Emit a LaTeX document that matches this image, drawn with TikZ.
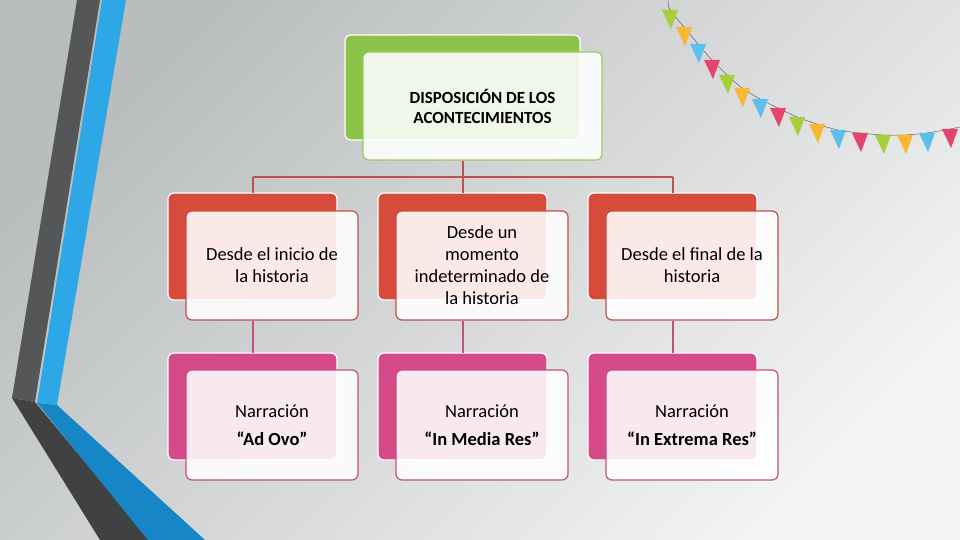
\documentclass[tikz,border=0pt]{standalone}
\usepackage{fontspec}
\setmainfont{Carlito}
\definecolor{bgA}{HTML}{F2F3F3}
\definecolor{bgB}{HTML}{BABDBE}
\definecolor{gr}{HTML}{8BC34A}
\definecolor{grB}{HTML}{9BCB5C}
\definecolor{rd}{HTML}{D64B3B}
\definecolor{rdB}{HTML}{C0504D}
\definecolor{pk}{HTML}{D64A8A}
\definecolor{pkB}{HTML}{C25086}
\definecolor{dk}{HTML}{555657}
\definecolor{dk2}{HTML}{404142}
\definecolor{bl}{HTML}{2EA7E6}
\definecolor{bl2}{HTML}{1686C6}
\definecolor{fG}{HTML}{A6CF3A}
\definecolor{fO}{HTML}{F7B733}
\definecolor{fB}{HTML}{5BC0EB}
\definecolor{fR}{HTML}{E5446D}
\tikzset{
  back/.style={rounded corners=6pt,draw=white,line width=1.2pt},
  front/.style={rounded corners=6pt,fill=white,fill opacity=0.88,text opacity=1,line width=1.2pt,align=center,font=\fontsize{18.5}{22}\selectfont},
  conn/.style={line width=1.3pt}
}
\begin{document}
\begin{tikzpicture}[x=1pt,y=-1pt]
\shade[left color=bgB,right color=bgA,shading angle=45] (0,0) rectangle (960,540);
\useasboundingbox (0,0) rectangle (960,540);
% left stripes
\fill[dk] (77,0) -- (100,0) -- (35,402) -- (12,398) -- cycle;
\fill[dk2] (12,398) -- (35,402) -- (150,540) -- (100,540) -- cycle;
\fill[bl] (102,0) -- (126,0) -- (57,405) -- (37,403) -- cycle;
\fill[bl2] (37,403) -- (57,405) -- (205,540) -- (148,540) -- cycle;
% bunting
\draw[black!70,line width=0.4pt] plot[smooth] coordinates {(668,0) (670,10) (684,27) (698,44) (712,60) (727,75) (742,88) (760,99) (778,108) (797,117) (817,124) (838,130) (860,133) (883,135) (905,135) (927,133) (950,129) (960,127)};
\foreach \x/\y/\c in {670/10/fG,684/27/fO,698/44/fB,712/60/fR,727/75/fG,742/88/fO,760/99/fB,778/108/fR,797/117/fG,817/124/fO,838/130/fB,860/133/fR,883/135/fG,905/135/fO,927/133/fB,950/129/fR}
  \fill[\c] (\x-8,\y) -- (\x+8,\y) -- (\x+1,\y+19) -- cycle;
% connectors
\coordinate (j) at (463,177);
\coordinate (jl) at (253,177);
\coordinate (jr) at (673,177);
% top
\draw[back,fill=gr] (345,35) rectangle (580,140);
\node[front,draw=grB,minimum width=239pt,minimum height=108pt,font=\bfseries\fontsize{17}{20}\selectfont] (top) at (482.5,106) {DISPOSICIÓN DE LOS\\ACONTECIMIENTOS};
% row backs
\foreach \dx in {0,210,420}{
  \draw[back,fill=rd] (168+\dx,193) rectangle (337+\dx,300);
  \draw[back,fill=pk] (168+\dx,353) rectangle (337+\dx,460);
}
\node[front,draw=rdB,minimum width=172pt,minimum height=109pt] (a1) at (272,265.5) {Desde el inicio de\\la historia};
\node[front,draw=rdB,minimum width=172pt,minimum height=109pt] (a2) at (482,265.5) {Desde un\\momento\\indeterminado de\\la historia};
\node[front,draw=rdB,minimum width=172pt,minimum height=109pt] (a3) at (692,265.5) {Desde el final de la\\historia};
\node[front,draw=pkB,minimum width=172pt,minimum height=110pt] (b1) at (272,425) {Narración\\[6pt]\textbf{“Ad Ovo”}};
\node[front,draw=pkB,minimum width=172pt,minimum height=110pt] (b2) at (482,425) {Narración\\[6pt]\textbf{“In Media Res”}};
\node[front,draw=pkB,minimum width=172pt,minimum height=110pt] (b3) at (692,425) {Narración\\[6pt]\textbf{“In Extrema Res”}};
\draw[conn,draw=rdB] (top.south -| j) -- (j) (jl) -- (jr)
  (jl) -- (253,193) (j) -- (463,193) (jr) -- (673,193);
\draw[conn,draw=pkB] (a1.south -| jl) -- (253,353) (a2.south -| j) -- (463,353) (a3.south -| jr) -- (673,353);
\end{tikzpicture}
\end{document}
